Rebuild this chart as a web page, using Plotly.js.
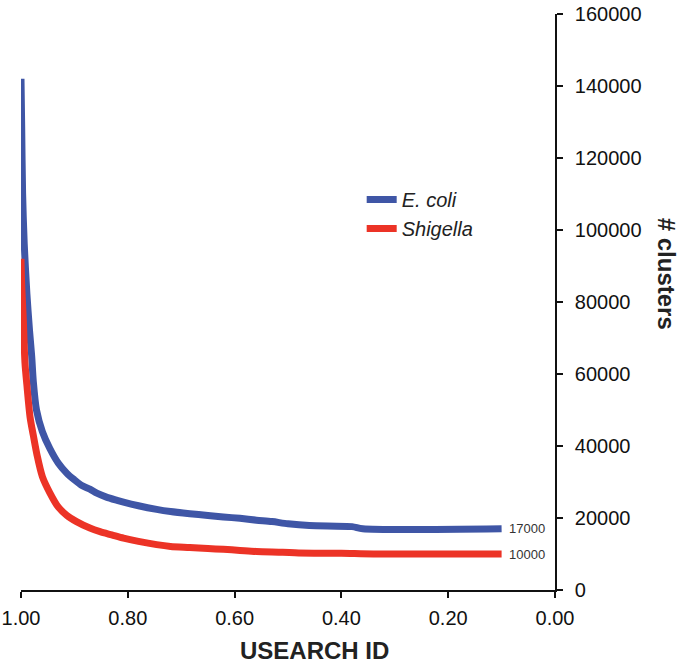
<!DOCTYPE html>
<html>
<head>
<meta charset="utf-8">
<script src="https://cdn.plot.ly/plotly-3.0.1.min.js"></script>
<style>
  html, body { margin: 0; padding: 0; background: #fff; }
  #chart { width: 680px; height: 664px; }
</style>
</head>
<body>
<div id="chart"></div>
<script>
// ---- Data ----
const ecoliId = [1.000, 0.9987, 0.997, 0.994, 0.989, 0.984, 0.980, 0.977, 0.971, 0.960, 0.946, 0.930, 0.914, 0.900, 0.886, 0.871, 0.858, 0.840, 0.820, 0.808, 0.780, 0.746, 0.720, 0.684, 0.650, 0.621, 0.590, 0.559, 0.530, 0.500, 0.460, 0.380, 0.360, 0.100];
const ecoliClusters = [142000, 128700, 110200, 96300, 82400, 72000, 65000, 58000, 50000, 44000, 39300, 35200, 32400, 30600, 29000, 28000, 26900, 25800, 24900, 24400, 23400, 22400, 21800, 21200, 20700, 20300, 19900, 19400, 19000, 18400, 17900, 17600, 17000, 17000];

const shigellaId = [1.000, 0.9985, 0.9957, 0.9925, 0.989, 0.983, 0.977, 0.970, 0.960, 0.946, 0.930, 0.914, 0.896, 0.871, 0.852, 0.830, 0.808, 0.780, 0.746, 0.720, 0.684, 0.650, 0.621, 0.590, 0.559, 0.510, 0.480, 0.400, 0.340, 0.100];
const shigellaClusters = [92000, 84000, 75000, 63000, 57000, 48000, 43000, 37500, 31500, 27000, 23000, 20700, 19000, 17200, 16200, 15300, 14400, 13500, 12600, 12100, 11800, 11500, 11300, 11000, 10700, 10500, 10300, 10200, 10000, 10000];

const seriesNames = ["<i>E. coli</i>", "<i>Shigella</i>"];
const endLabels = ["17000", "10000"];
const xTickVals = [1.0, 0.8, 0.6, 0.4, 0.2, 0.0];
const xTickText = ["1.00", "0.80", "0.60", "0.40", "0.20", "0.00"];
const yTickVals = [0, 20000, 40000, 60000, 80000, 100000, 120000, 140000, 160000];

// ---- Styling ----
const FONT = "Liberation Sans, Arial, Helvetica, sans-serif";
const BLUE = "#3F56A6";
const RED = "#EC3326";

const traces = [
  { x: ecoliId, y: ecoliClusters, name: seriesNames[0], mode: "lines",
    line: { color: BLUE, width: 7, shape: "spline", smoothing: 0.8 } },
  { x: shigellaId, y: shigellaClusters, name: seriesNames[1], mode: "lines",
    line: { color: RED, width: 7, shape: "spline", smoothing: 0.8 } }
];

const layout = {
  width: 680, height: 664,
  margin: { l: 21, r: 125, t: 14, b: 74 },
  paper_bgcolor: "#fff", plot_bgcolor: "#fff",
  font: { family: FONT, color: "#111" },
  showlegend: true,
  legend: {
    x: 0.638, y: 0.712, xanchor: "left", yanchor: "top",
    font: { family: FONT, size: 20, color: "#222" },
    bgcolor: "rgba(0,0,0,0)", itemwidth: 30, tracegroupgap: 0
  },
  xaxis: {
    range: [1.0, 0.0],
    tickvals: xTickVals, ticktext: xTickText,
    ticks: "outside", ticklen: 6, tickwidth: 1.8, tickcolor: "#111",
    showline: true, linecolor: "#111", linewidth: 1.8,
    showgrid: false, zeroline: false,
    tickfont: { family: FONT, size: 20, color: "#111" },
    ticklabelstandoff: 3
  },
  yaxis: {
    side: "right",
    range: [0, 160000],
    tickvals: yTickVals, tickformat: "d",
    ticks: "outside", ticklen: 6, tickwidth: 1.8, tickcolor: "#111",
    showline: true, linecolor: "#111", linewidth: 1.8,
    showgrid: false, zeroline: false,
    tickfont: { family: FONT, size: 20, color: "#111" },
    ticklabelstandoff: 8
  },
  annotations: [
    { x: ecoliId[ecoliId.length - 1], y: ecoliClusters[ecoliClusters.length - 1],
      xref: "x", yref: "y", text: endLabels[0], showarrow: false,
      xanchor: "left", yanchor: "middle", xshift: 5,
      font: { family: FONT, size: 13, color: "#333" } },
    { x: shigellaId[shigellaId.length - 1], y: shigellaClusters[shigellaClusters.length - 1],
      xref: "x", yref: "y", text: endLabels[1], showarrow: false,
      xanchor: "left", yanchor: "middle", xshift: 5,
      font: { family: FONT, size: 13, color: "#333" } },
    { x: 0.549, y: -0.105, xref: "paper", yref: "paper",
      text: "USEARCH ID", showarrow: false, xanchor: "center", yanchor: "middle",
      font: { family: FONT, size: 24, color: "#222", weight: 700 } },
    { x: 1.208, y: 0.549, xref: "paper", yref: "paper",
      text: "# clusters", showarrow: false, textangle: 90,
      xanchor: "center", yanchor: "middle",
      font: { family: FONT, size: 24, color: "#222", weight: 700 } }
  ]
};

Plotly.newPlot("chart", traces, layout, { displayModeBar: false, staticPlot: true });
</script>
</body>
</html>
